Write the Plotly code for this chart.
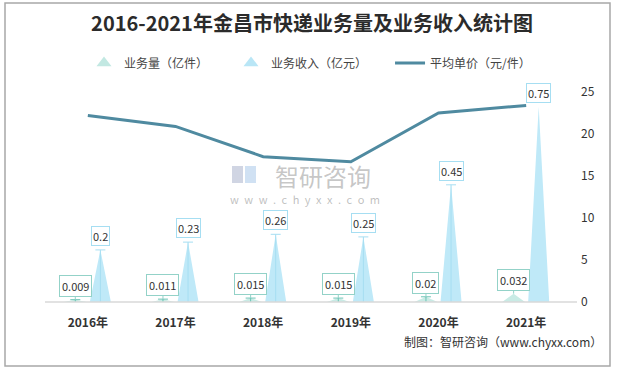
import plotly.graph_objects as go

years = ["2016年", "2017年", "2018年", "2019年", "2020年", "2021年"]
volume = [0.009, 0.011, 0.015, 0.015, 0.02, 0.032]      # 业务量（亿件）
revenue = [0.2, 0.23, 0.26, 0.25, 0.45, 0.75]            # 业务收入（亿元）
price = [22.2, 20.9, 17.3, 16.7, 22.5, 23.4]             # 平均单价（元/件）
series_names = ["业务量（亿件）", "业务收入（亿元）", "平均单价（元/件）"]

VOL_COLOR = "#c9ebe5"
REV_COLOR = "#bfe9f8"
LINE_COLOR = "#4f8aa0"
VOL_EDGE = "#93d2c8"
REV_EDGE = "#a6def2"

L, R, T, B = 44, 48, 92, 68
W, H = 618, 370
pw, ph = W - L - R, H - T - B

off = 0.143     # offset of each spike from the category centre
hw_rev = 0.12
hw_vol = 0.13
cap = 0.057

def spikes(vals, dx, hw):
    xs, ys = [], []
    for i, v in enumerate(vals):
        c = i + dx
        xs += [c - hw, c, c + hw, None]
        ys += [0, v, 0, None]
    return xs, ys

def leaders(vals, dx, skip=()):
    xs, ys = [], []
    for i, v in enumerate(vals):
        if i in skip:
            continue
        c = i + dx
        xs += [c, c, None, c - cap, c + cap, None]
        ys += [0, v, None, v, v, None]
    return xs, ys

fig = go.Figure()

vx, vy = spikes(volume, -off, hw_vol)
fig.add_trace(go.Scatter(x=vx, y=vy, fill="toself", fillcolor=VOL_COLOR, mode="lines",
                         line=dict(width=0), showlegend=False, hoverinfo="skip"))
rx, ry = spikes(revenue, off, hw_rev)
fig.add_trace(go.Scatter(x=rx, y=ry, fill="toself", fillcolor=REV_COLOR, mode="lines",
                         line=dict(width=0), showlegend=False, hoverinfo="skip"))

lx, ly = leaders(revenue, off, skip=(5,))
fig.add_trace(go.Scatter(x=lx, y=ly, mode="lines", line=dict(color=REV_EDGE, width=1),
                         showlegend=False, hoverinfo="skip"))
lx, ly = leaders(volume, -off, skip=(5,))
fig.add_trace(go.Scatter(x=lx, y=ly, mode="lines", line=dict(color="#6cc3b5", width=1),
                         showlegend=False, hoverinfo="skip"))

fig.add_trace(go.Scatter(x=list(range(len(years))), y=price, yaxis="y2", mode="lines",
                         line=dict(color=LINE_COLOR, width=3), showlegend=False))

# legend entries
GAP = "\u3000\u3000"
fig.add_trace(go.Scatter(x=[None], y=[None], mode="markers", name=series_names[0] + GAP,
                         marker=dict(symbol="triangle-up", size=13, color="#c2e8e2")))
fig.add_trace(go.Scatter(x=[None], y=[None], mode="markers", name=series_names[1] + GAP,
                         marker=dict(symbol="triangle-up", size=13, color="#b9e6f6")))
fig.add_trace(go.Scatter(x=[None], y=[None], mode="lines", name=series_names[2],
                         line=dict(color=LINE_COLOR, width=3)))

ann = []
for i, v in enumerate(revenue):
    ann.append(dict(x=i + off, y=v, xref="x", yref="y", text=str(v), showarrow=False,
                    yanchor="bottom", yshift=4, bgcolor="white", bordercolor=REV_EDGE,
                    borderwidth=1, borderpad=1, font=dict(size=11, color="#333")))
for i, v in enumerate(volume):
    ann.append(dict(x=i - off, y=v, xref="x", yref="y", text=str(v), showarrow=True,
                    arrowhead=0, arrowwidth=1, arrowcolor=VOL_EDGE, ax=0, ay=-14,
                    bgcolor="white", bordercolor=VOL_EDGE,
                    borderwidth=1, borderpad=2, font=dict(size=11, color="#333")))

def px(x):
    return (x - L) / pw

def py(y):
    return (302 - y) / ph

# watermark
ann.append(dict(x=px(323), y=py(175), xref="paper", yref="paper",
                text="智研咨询", showarrow=False, font=dict(size=24, color="rgba(150,150,150,0.55)")))
ann.append(dict(x=px(305), y=py(199), xref="paper", yref="paper",
                text="\u2002".join("www.chyxx.com"), showarrow=False,
                font=dict(size=11, color="rgba(150,150,150,0.6)")))
# source
ann.append(dict(x=px(604), y=py(352), xref="paper", yref="paper",
                text="制图：智研咨询（www.chyxx.com）", showarrow=False, xanchor="right",
                font=dict(size=12, color="#333")))

shapes = [
    dict(type="rect", xref="paper", yref="paper",
         x0=px(5), x1=px(610), y0=py(366), y1=py(3),
         line=dict(color="#a8a8a8", width=1.5)),
    dict(type="line", xref="paper", yref="paper",
         x0=px(45), x1=px(577), y0=0, y1=0,
         line=dict(color="#d9d9d9", width=1.5)),
    # watermark logo blocks
    dict(type="rect", xref="paper", yref="paper", x0=px(232), x1=px(243), y0=py(183), y1=py(166),
         line=dict(width=0), fillcolor="rgba(120,135,175,0.35)"),
    dict(type="rect", xref="paper", yref="paper", x0=px(245), x1=px(256), y0=py(183), y1=py(166),
         line=dict(width=0), fillcolor="rgba(120,170,220,0.35)"),
]

fig.update_layout(
    width=W, height=H,
    margin=dict(l=L, r=R, t=T, b=B, autoexpand=False),
    paper_bgcolor="white", plot_bgcolor="white",
    font=dict(family="Noto Sans CJK SC, sans-serif", color="#333"),
    title=dict(text="<b>2016-2021年金昌市快递业务量及业务收入统计图</b>",
               x=312 / W, xanchor="center", y=1 - 24 / H, yanchor="middle",
               yref="container", font=dict(size=20, color="#2b2b2b",
                                          family="Noto Sans CJK SC, sans-serif")),
    legend=dict(orientation="h", x=310 / W, xanchor="center", xref="container",
                y=1 - 63 / H, yanchor="middle", yref="container",
                font=dict(size=12, color="#444"), itemwidth=30, bgcolor="rgba(0,0,0,0)"),
    xaxis=dict(range=[-0.5, 5.5], tickmode="array", tickvals=list(range(len(years))),
               ticktext=["<b>%s</b>" % y for y in years], showgrid=False, zeroline=False,
               showline=False, ticks="", tickfont=dict(size=12, color="#333"),
               ticklabelstandoff=12),
    yaxis=dict(range=[0, 25 / 31], visible=False, showgrid=False, zeroline=False),
    yaxis2=dict(range=[0, 25], dtick=5, side="right", overlaying="y", showgrid=False,
                zeroline=False, showline=False, ticks="", tickfont=dict(size=12, color="#333"),
                ticklabelstandoff=10),
    annotations=ann,
    shapes=shapes,
    hovermode=False,
)

fig.write_html("out.html", config={"displayModeBar": False},
               post_script="document.body.style.margin='0';")
